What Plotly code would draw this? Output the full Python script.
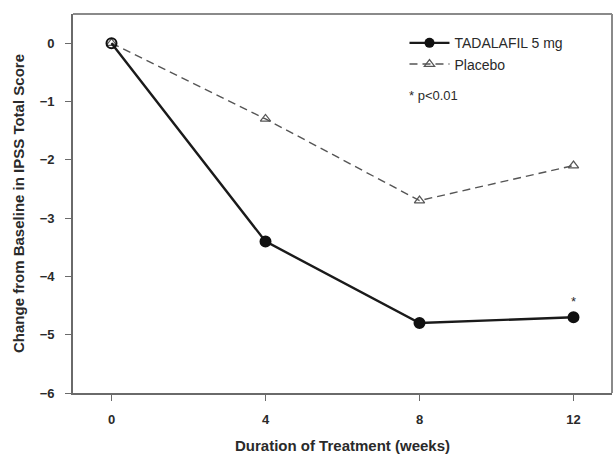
import plotly.graph_objects as go

weeks = [0, 4, 8, 12]
tadalafil = [0, -3.4, -4.8, -4.7]
placebo = [0, -1.3, -2.7, -2.1]
x_ticks = [0, 4, 8, 12]
y_ticks = [0, -1, -2, -3, -4, -5, -6]

FONT = "Liberation Sans, Arial, sans-serif"
TXT = "#2a2a2a"

fig = go.Figure()
fig.add_trace(go.Scatter(
    x=weeks, y=placebo, name="Placebo", mode="lines+markers", showlegend=False,
    line=dict(color="#555555", width=1.4, dash="8px,5px"),
    marker=dict(symbol="triangle-up-open", size=9, color="#555555", line=dict(width=1.2)),
))
fig.add_trace(go.Scatter(
    x=weeks, y=tadalafil, name="TADALAFIL 5 mg", mode="lines+markers", showlegend=False,
    line=dict(color="#1a1a1a", width=2.4),
    marker=dict(symbol=["circle-open", "circle", "circle", "circle"], size=10,
                color="#111111", line=dict(width=2, color="#111111")),
))
# legend entries
fig.add_trace(go.Scatter(
    x=[None], y=[None], name="TADALAFIL 5 mg", mode="lines+markers",
    line=dict(color="#1a1a1a", width=2.4),
    marker=dict(symbol="circle", size=10, color="#111111"),
))
fig.add_trace(go.Scatter(
    x=[None], y=[None], name="Placebo", mode="lines+markers",
    line=dict(color="#555555", width=1.4, dash="8px,5px"),
    marker=dict(symbol="triangle-up-open", size=9, color="#555555", line=dict(width=1.2)),
))

fig.add_annotation(x=weeks[-1], y=tadalafil[-1], text="*", showarrow=False,
                   yshift=16, font=dict(family=FONT, size=13, color=TXT))
fig.add_annotation(xref="paper", yref="paper", x=0.62, y=0.81, xanchor="left",
                   text="* p&lt;0.01", showarrow=False,
                   font=dict(family=FONT, size=13, color=TXT))

# plot frame (top/right sides, lighter)
fig.add_shape(type="line", xref="paper", yref="paper", x0=0, x1=1, y0=1, y1=1,
              line=dict(color="#8a8a8a", width=2))
fig.add_shape(type="line", xref="paper", yref="paper", x0=1, x1=1, y0=0, y1=1,
              line=dict(color="#8a8a8a", width=2))

axis_common = dict(showline=True, linecolor="#6a6a6a", linewidth=1.6,
                   ticks="outside", ticklen=6, tickcolor="#6a6a6a", tickwidth=1.3,
                   showgrid=False, zeroline=False,
                   tickfont=dict(family=FONT, size=13, color=TXT, weight="bold"))

fig.update_layout(
    width=614, height=456,
    margin=dict(l=73, r=2, t=14, b=63),
    paper_bgcolor="white", plot_bgcolor="white",
    font=dict(family=FONT, color=TXT),
    xaxis=dict(range=[-1, 13], tickvals=x_ticks, ticklabelstandoff=8,
               title=dict(text="Duration of Treatment (weeks)", standoff=14,
                          font=dict(family=FONT, size=15, color=TXT, weight="bold")),
               **axis_common),
    yaxis=dict(range=[-6, 0.5], tickvals=y_ticks, ticklabelstandoff=8,
               title=dict(text="Change from Baseline in IPSS Total Score", standoff=12,
                          font=dict(family=FONT, size=15, color=TXT, weight="bold")),
               **axis_common),
    legend=dict(x=0.615, y=0.965, xanchor="left", yanchor="top",
                bgcolor="rgba(0,0,0,0)", font=dict(family=FONT, size=14, color=TXT),
                tracegroupgap=0, itemwidth=40),
    showlegend=True,
)

fig.write_html("out.html", config={"displayModeBar": False},
               post_script="document.body.style.margin='0';document.body.style.overflow='hidden';")
